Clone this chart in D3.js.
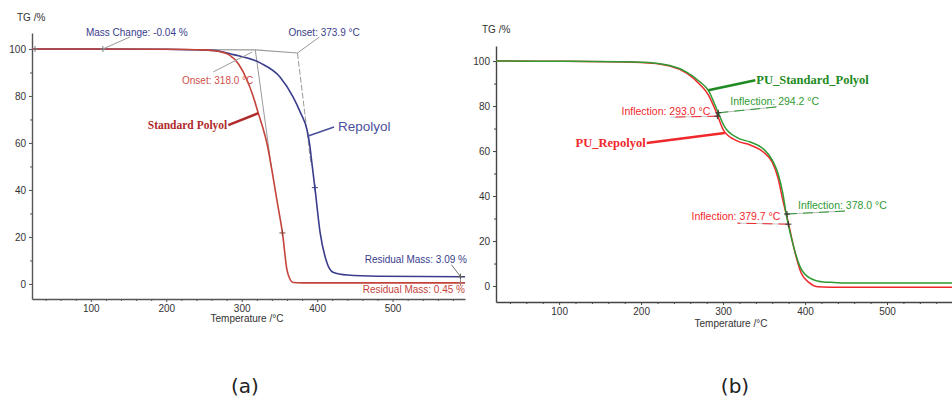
<!DOCTYPE html>
<html>
<head>
<meta charset="utf-8">
<script src="https://cdn.jsdelivr.net/npm/d3@7"></script>
<style>
  body { margin: 0; background: #fff; }
  svg { display: block; font-family: "Liberation Sans", Arial, sans-serif; }
</style>
</head>
<body>
<div id="chart"></div>
<script>
// ---- panel (a) : TG curves, Standard Polyol vs Repolyol ----
var tempStdA = [22, 100, 200, 250, 262, 272, 284, 296, 307, 315, 322, 328, 333, 340, 347, 354, 360, 364, 368, 380, 450, 596];
var massStdA = [100, 100, 99.9, 99.6, 99.3, 98.8, 97.4, 93.5, 86.8, 80, 72.7, 66.5, 60.5, 48.5, 35, 21.7, 6, 2, 0.6, 0.45, 0.45, 0.45];

var tempRepA = [22, 100, 200, 262, 289, 325, 351, 368, 378, 387, 390, 393, 397, 404, 412, 421, 440, 480, 596];
var massRepA = [100, 100, 99.9, 99.4, 97.6, 94, 88, 79.6, 72.8, 65, 59.5, 51.5, 41, 21.7, 10, 5, 3.8, 3.3, 3.1];

// ---- panel (b) : PU foams ----
var tempStdB = [23, 100, 200, 235, 256, 272, 282, 293, 302, 317, 333, 349, 360, 367, 373, 377, 384, 394, 406, 422, 439, 445, 600];
var massStdB = [100, 99.9, 99.5, 98, 95, 90.7, 87, 78, 70.7, 66, 64, 61, 56, 50, 41, 32, 20.4, 8.5, 3.5, 1.8, 1.5, 1.3, 1.3];

var tempRepB = [23, 100, 200, 235, 256, 272, 282, 292, 301, 317, 333, 349, 360, 367, 373, 380, 387, 395, 405, 415, 430, 600];
var massRepB = [100, 99.9, 99.4, 97.8, 94.5, 89.5, 85, 77, 69, 64.5, 62.7, 59.6, 55, 48, 38, 27.5, 16, 6, 1.5, -0.3, -0.5, -0.5];

// ticks
var xTicks = [100, 200, 300, 400, 500, 600];
var yTicks = [0, 20, 40, 60, 80, 100];

// annotation values
var onsetStd = 318.0, onsetRep = 373.9;
var massChange = -0.04, residualRep = 3.09, residualStd = 0.45;
var inflStd = [294.2, 378.0], inflRep = [293.0, 379.7];

var W = 952, H = 399;
var svg = d3.select("#chart").append("svg")
    .attr("width", W).attr("height", H);
svg.append("rect").attr("width", W).attr("height", H).attr("fill", "#fff");

function zip(t, m){
    return t.map(function(d, i){ return {t: d, m: m[i]}; });
}

// draws axes for one panel, only ticks that fit inside the page
function drawAxes(g, x, y, col, titleX, titleY, tgX, tgY){
    var dom = x.domain();
    var inside = function(d){ return d >= dom[0] && d <= dom[1] && x(d) < W - 10; };
    var majorX = xTicks.filter(inside);
    var minorX = d3.range(40, 600, 20).filter(function(d){ return d % 100 != 0 && inside(d); });
    var minorY = [10, 30, 50, 70, 90];

    g.append("g").attr("transform", "translate(0," + y.range()[0] + ")")
        .call(d3.axisBottom(x).tickValues(majorX).tickSize(3).tickSizeOuter(0));
    g.append("g").attr("transform", "translate(0," + y.range()[0] + ")")
        .call(d3.axisBottom(x).tickValues(minorX).tickSize(2).tickFormat(""))
        .select(".domain").remove();
    var ya = g.append("g").attr("transform", "translate(" + x.range()[0] + ",0)")
        .call(d3.axisLeft(y).tickValues(yTicks).tickSize(3).tickSizeOuter(0));
    g.append("g").attr("transform", "translate(" + x.range()[0] + ",0)")
        .call(d3.axisLeft(y).tickValues(minorY).tickSize(2).tickFormat(""))
        .select(".domain").remove();

    g.selectAll(".domain").attr("stroke", col).attr("stroke-width", 1.4);
    g.selectAll(".tick line").attr("stroke", col);
    g.selectAll(".tick text").attr("fill", "#333").style("font-size", "10px")
        .style("font-family", "'Liberation Sans', Arial, sans-serif");
    ya.selectAll(".tick text").attr("x", -6);

    g.append("text").attr("x", titleX).attr("y", titleY).attr("text-anchor", "middle")
        .attr("fill", "#333").style("font-size", "10px").text("Temperature /°C");
    g.append("text").attr("x", tgX).attr("y", tgY)
        .attr("fill", "#333").style("font-size", "10px").text("TG /%");
}

function label(g, x, y, str, col, size, anchor, extra){
    var t = g.append("text").attr("x", x).attr("y", y).attr("fill", col)
        .attr("text-anchor", anchor || "start")
        .style("font-size", size + "px").text(str);
    if (extra == "serif") {
        t.style("font-family", "'Liberation Serif', 'Times New Roman', serif").style("font-weight", "bold");
    }
    return t;
}

function seg(g, x1, y1, x2, y2, col, w, dash){
    return g.append("line").attr("x1", x1).attr("y1", y1).attr("x2", x2).attr("y2", y2)
        .attr("stroke", col).attr("stroke-width", w || 1)
        .attr("stroke-dasharray", dash || null);
}

function plus(g, x, y, col){
    seg(g, x - 3, y, x + 3, y, col, 1);
    seg(g, x, y - 3, x, y + 3, col, 1);
}

/* ================= panel (a) ================= */
var gA = svg.append("g");
var xA = d3.scaleLinear().domain([22, 596]).range([32, 465]);
var yA = d3.scaleLinear().domain([-6.4, 106.8]).range([299, 33]);

drawAxes(gA, xA, yA, "#555", 247, 322, 17, 21);

var lineA = d3.line().x(function(d){ return xA(d.t); }).y(function(d){ return yA(d.m); })
    .curve(d3.curveMonotoneX);

var redA = "#c4433b", blueA = "#3a3d8c", greyA = "#9a9a9a";

// baseline + onset tangents
gA.append("polyline")
    .attr("points", [[xA(24), yA(100)], [xA(onsetStd), yA(99.6)], [xA(onsetRep), yA(98.3)]].join(" "))
    .attr("fill", "none").attr("stroke", greyA).attr("stroke-width", 1.2);
seg(gA, xA(onsetStd), yA(99.6), xA(340), yA(48.1), greyA, 1);
seg(gA, xA(onsetRep), yA(98.3), xA(392), yA(50.7), greyA, 1, "6,2");

gA.append("path").datum(zip(tempRepA, massRepA)).attr("d", lineA)
    .attr("fill", "none").attr("stroke", blueA).attr("stroke-width", 1.6);
gA.append("path").datum(zip(tempStdA, massStdA)).attr("d", lineA)
    .attr("fill", "none").attr("stroke", redA).attr("stroke-width", 1.6);

// mass change
plus(gA, xA(26), yA(100), "#777");
plus(gA, xA(116), yA(100), "#777");
seg(gA, xA(116), yA(100), xA(116) + 27, yA(100) - 12, greyA, 1);
label(gA, xA(116) - 17, yA(100) - 13, "Mass Change: " + massChange.toFixed(2) + " %", blueA, 10);

// onsets
seg(gA, xA(onsetRep), yA(98.3), xA(onsetRep) + 22, yA(98.3) - 16, greyA, 1);
label(gA, xA(onsetRep) - 9, yA(98.3) - 17, "Onset: " + onsetRep.toFixed(1) + " °C", blueA, 10);
seg(gA, xA(onsetStd) - 3, yA(99.6) + 2, xA(onsetStd) - 42, yA(99.6) + 22, greyA, 1);
label(gA, xA(onsetStd) - 2, yA(99.6) + 34, "Onset: " + onsetStd.toFixed(1) + " °C", "#d0504a", 10, "end");

// curve names
seg(gA, xA(322), yA(72.7), xA(322) - 30, yA(72.7) + 12, "#b02a2a", 2.6);
label(gA, xA(322) - 31, yA(72.7) + 16, "Standard Polyol", "#b02a2a", 11.5, "end", "serif");
seg(gA, xA(388), yA(63), xA(388) + 26, yA(63) - 9, "#4b4f9c", 1.6);
label(gA, xA(388) + 30, yA(63) - 5, "Repolyol", "#4b4f9c", 13.5);

// residual masses
plus(gA, xA(590), yA(residualRep), "#555");
seg(gA, xA(590), yA(residualRep), xA(590) - 9, yA(residualRep) - 12, "#777", 1);
label(gA, xA(596) + 2, yA(residualRep) - 14, "Residual Mass: " + residualRep.toFixed(2) + " %", blueA, 10, "end");
plus(gA, xA(590), yA(residualStd), "#b07070");
label(gA, xA(596), yA(residualStd) + 10, "Residual Mass: " + residualStd.toFixed(2) + " %", redA, 10, "end");

// small markers on curves
plus(gA, xA(354), yA(21.7), "#8a3a34");
plus(gA, xA(397), yA(41), "#3a3d8c");

/* ================= panel (b) ================= */
var gB = svg.append("g");
var xB = d3.scaleLinear().domain([23, 600]).range([496, 969]);
var yB = d3.scaleLinear().domain([-7.1, 106.7]).range([302, 46]);

drawAxes(gB, xB, yB, "#444", 731, 327, 482, 33);

var lineB = d3.line().x(function(d){ return xB(d.t); }).y(function(d){ return yB(d.m); })
    .curve(d3.curveMonotoneX);

var greenB = "#2f9a34", redB = "#f0282c";

gB.append("path").datum(zip(tempRepB, massRepB)).attr("d", lineB)
    .attr("fill", "none").attr("stroke", redB).attr("stroke-width", 1.5);
gB.append("path").datum(zip(tempStdB, massStdB)).attr("d", lineB)
    .attr("fill", "none").attr("stroke", greenB).attr("stroke-width", 1.5);

// curve names
seg(gB, xB(282), yB(87), xB(282) + 47, yB(87) - 10, "#1e8a22", 2.6);
label(gB, xB(282) + 48, yB(87) - 6, "PU_Standard_Polyol", "#1e8a22", 12.5, "start", "serif");
seg(gB, xB(302), yB(68), xB(302) - 78, yB(68) + 10, redB, 2.6);
label(gB, xB(302) - 79, yB(68) + 14, "PU_Repolyol", redB, 12.5, "end", "serif");

// inflections, first step
var i1s = [xB(inflStd[0]), yB(77)], i1r = [xB(inflRep[0]), yB(75.5)];
seg(gB, i1s[0], i1s[1], i1s[0] + 59, i1s[1] - 6, "#aaa", 0.8);
seg(gB, i1s[0], i1s[1], i1s[0] + 59, i1s[1] - 6, greenB, 1, "10,6");
label(gB, i1s[0] + 12, i1s[1] - 8, "Inflection: " + inflStd[0].toFixed(1) + " °C", greenB, 10.5);
seg(gB, i1r[0], i1r[1], i1r[0] - 47, i1r[1] + 1, "#bbb", 0.8);
seg(gB, i1r[0], i1r[1], i1r[0] - 47, i1r[1] + 1, redB, 1, "10,6");
label(gB, i1r[0] - 7, i1r[1] - 1, "Inflection: " + inflRep[0].toFixed(1) + " °C", redB, 10.5, "end");
plus(gB, i1s[0], i1s[1], "#333");
plus(gB, i1r[0], i1r[1], "#333");

// inflections, second step
var i2s = [xB(inflStd[1]), yB(32)], i2r = [xB(inflRep[1]), yB(27.5)];
seg(gB, i2s[0], i2s[1], i2s[0] + 58, i2s[1] - 3, "#aaa", 0.8);
seg(gB, i2s[0], i2s[1], i2s[0] + 58, i2s[1] - 3, greenB, 1, "10,6");
label(gB, i2s[0] + 11, i2s[1] - 5, "Inflection: " + inflStd[1].toFixed(1) + " °C", greenB, 10.5);
seg(gB, i2r[0], i2r[1], i2r[0] - 51, i2r[1] - 1, "#bbb", 0.8);
seg(gB, i2r[0], i2r[1], i2r[0] - 51, i2r[1] - 1, redB, 1, "10,6");
label(gB, i2r[0] - 8, i2r[1] - 4, "Inflection: " + inflRep[1].toFixed(1) + " °C", redB, 10.5, "end");
plus(gB, i2s[0], i2s[1], "#333");
plus(gB, i2r[0], i2r[1], "#333");

/* ================= captions ================= */
svg.append("text").attr("x", 245).attr("y", 393).attr("text-anchor", "middle")
    .style("font-family", "'DejaVu Sans', Verdana, sans-serif").style("font-size", "20px")
    .attr("fill", "#222").text("(a)");
svg.append("text").attr("x", 735).attr("y", 393).attr("text-anchor", "middle")
    .style("font-family", "'DejaVu Sans', Verdana, sans-serif").style("font-size", "20px")
    .attr("fill", "#222").text("(b)");
</script>
</body>
</html>
